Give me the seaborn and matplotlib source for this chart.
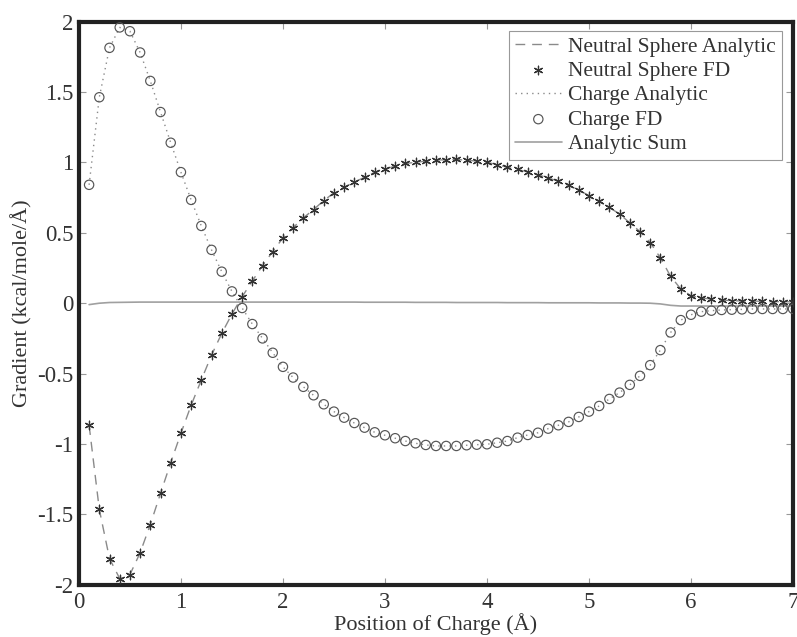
import numpy as np
import pandas as pd
import matplotlib
matplotlib.use("Agg")
import matplotlib.pyplot as plt
import seaborn as sns

# Position of charge (Angstrom), sampled every 0.1
position = np.round(np.arange(1, 71) * 0.1, 1)

neutral_fd = [
    -0.867, -1.465, -1.814, -1.956, -1.928, -1.773, -1.572, -1.351, -1.133, -0.924,
    -0.725, -0.545, -0.369, -0.215, -0.077, 0.046, 0.158, 0.267, 0.367, 0.464,
    0.537, 0.606, 0.665, 0.729, 0.784, 0.824, 0.860, 0.895, 0.930, 0.952,
    0.974, 0.993, 1.000, 1.010, 1.018, 1.018, 1.022, 1.015, 1.010, 1.000,
    0.985, 0.965, 0.950, 0.932, 0.912, 0.890, 0.866, 0.837, 0.803, 0.765,
    0.723, 0.680, 0.633, 0.571, 0.509, 0.431, 0.322, 0.191, 0.101, 0.053,
    0.037, 0.030, 0.023, 0.018, 0.016, 0.016, 0.013, 0.011, 0.011, 0.010,
]

charge_fd = [
    0.841, 1.463, 1.814, 1.959, 1.932, 1.781, 1.579, 1.358, 1.140, 0.931,
    0.734, 0.549, 0.379, 0.224, 0.084, -0.034, -0.148, -0.250, -0.352, -0.452,
    -0.528, -0.594, -0.654, -0.718, -0.770, -0.813, -0.851, -0.884, -0.917, -0.938,
    -0.959, -0.979, -0.995, -1.007, -1.014, -1.014, -1.014, -1.009, -1.005, -1.002,
    -0.991, -0.979, -0.955, -0.936, -0.920, -0.891, -0.867, -0.843, -0.808, -0.770,
    -0.730, -0.680, -0.635, -0.580, -0.516, -0.440, -0.333, -0.208, -0.120, -0.082,
    -0.060, -0.053, -0.048, -0.046, -0.044, -0.041, -0.041, -0.041, -0.041, -0.040,
]

# analytic curves lie on top of the FD points
neutral_analytic = list(neutral_fd)
charge_analytic = list(charge_fd)

analytic_sum = [
    -0.010, 0.000, 0.005, 0.006, 0.007, 0.008, 0.008, 0.008, 0.008, 0.008,
    0.008, 0.008, 0.008, 0.008, 0.008, 0.008, 0.008, 0.008, 0.008, 0.008,
    0.008, 0.008, 0.008, 0.008, 0.008, 0.008, 0.008, 0.007, 0.007, 0.007,
    0.007, 0.007, 0.006, 0.006, 0.006, 0.006, 0.005, 0.005, 0.005, 0.005,
    0.005, 0.004, 0.004, 0.004, 0.004, 0.003, 0.003, 0.003, 0.003, 0.003,
    0.002, 0.002, 0.002, 0.001, 0.001, 0.000, -0.005, -0.015, -0.020, -0.020,
    -0.020, -0.020, -0.020, -0.020, -0.020, -0.020, -0.020, -0.020, -0.020, -0.020,
]

df = pd.DataFrame({
    "x": position,
    "neutral_fd": neutral_fd,
    "charge_fd": charge_fd,
    "neutral_an": neutral_analytic,
    "charge_an": charge_analytic,
    "sum": analytic_sum,
})

sns.set_style("ticks")
plt.rcParams["font.family"] = ["Liberation Serif", "DejaVu Serif"]

fig = plt.figure(figsize=(7.97, 6.37), dpi=100)
ax = fig.add_axes([0.099, 0.082, 0.896, 0.884])

sns.lineplot(data=df, x="x", y="neutral_an", ax=ax, color="#8a8a8a", lw=1.0,
             linestyle=(0, (7, 5)), label="Neutral Sphere Analytic", zorder=2)
sns.scatterplot(data=df, x="x", y="neutral_fd", ax=ax, marker=(6, 2, 0), s=38,
                color="#333333", linewidth=0.9, label="Neutral Sphere FD", zorder=3)
sns.lineplot(data=df, x="x", y="charge_an", ax=ax, color="#8a8a8a", lw=1.0,
             linestyle=(0, (1, 3)), label="Charge Analytic", zorder=2)
sns.scatterplot(data=df, x="x", y="charge_fd", ax=ax, marker="o", s=45,
                facecolor="none", edgecolor="#555555", linewidth=0.85,
                label="Charge FD", zorder=3)
sns.lineplot(data=df, x="x", y="sum", ax=ax, color="#a0a0a0", lw=1.2,
             label="Analytic Sum", zorder=2)

ax.set_xlim(0, 7)
ax.set_ylim(-2, 2)
ax.set_xticks(range(0, 8))
ax.set_yticks([-2, -1.5, -1, -0.5, 0, 0.5, 1, 1.5, 2])
ax.set_yticklabels(["-2", "-1.5", "-1", "-0.5", "0", "0.5", "1", "1.5", "2"])
ax.set_xlabel("Position of Charge (Å)", fontsize=16, color="#333333", labelpad=0)
ax.set_ylabel("Gradient (kcal/mole/Å)", fontsize=16, color="#333333", labelpad=3)

ax.tick_params(direction="in", length=5, width=0.8, color="#999999",
               labelsize=16.5, labelcolor="#333333", top=True, right=True)
ax.tick_params(axis="x", pad=5)
ax.tick_params(axis="y", pad=4)
for sp in ax.spines.values():
    sp.set_linewidth(3)
    sp.set_color("#222222")

leg = ax.legend(loc="upper right", bbox_to_anchor=(0.984, 0.983), fontsize=15.5,
                frameon=True, fancybox=False, edgecolor="#999999", framealpha=1,
                handlelength=2.2, labelspacing=0.2, borderpad=0.25,
                handletextpad=0.3, borderaxespad=0)
leg.get_frame().set_linewidth(0.8)
leg.set_zorder(5)
for t in leg.get_texts():
    t.set_color("#333333")

fig.savefig("out.png", dpi=100)
